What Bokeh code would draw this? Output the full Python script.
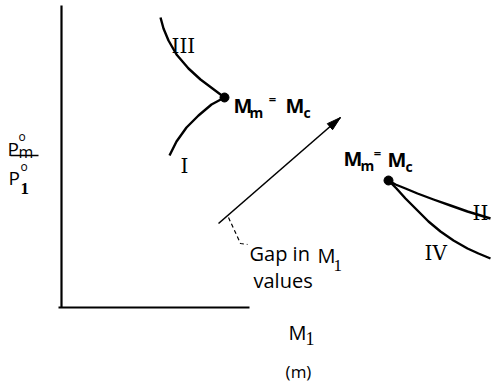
from bokeh.plotting import figure
from bokeh.models import Range1d
from bokeh.core.properties import value
from bokeh.embed import file_html
from bokeh.resources import INLINE

# Schematic curves, in axis units (origin at the corner of the axes, y upward)
curve_III_x = [99, 102, 107, 115, 127, 139, 151, 163]
curve_III_y = [290, 279, 267, 253, 239, 228, 219, 210]
curve_I_x = [108, 115, 125, 137, 150, 163]
curve_I_y = [152, 166, 180, 192, 203, 210]
curve_II_x = [327, 334, 344, 356, 372, 389, 406, 429]
curve_II_y = [127, 123, 119, 114, 108, 102, 96, 89]
curve_IV_x = [327, 335, 344, 355, 367, 379, 392, 406, 417, 429]
curve_IV_y = [127, 119, 109, 98, 86, 76, 67, 59, 54, 49]

# Critical points M_m = M_c
crit_x = [163, 327]
crit_y = [210, 127]

# Direction arrow and the "gap" leader
arrow_x = [157, 279]
arrow_y = [84, 190]
leader_x = [167, 179, 186]
leader_y = [90, 64, 63]

# Axes extents
yaxis_top = 302
xaxis_end = 188

SANS = "Open Sans"
SERIF = "DejaVu Serif"

p = figure(width=491, height=385, output_backend="svg", toolbar_location=None,
           x_range=Range1d(-61, 430), y_range=Range1d(-78, 307),
           x_axis_location=None, y_axis_location=None, min_border=0)
p.outline_line_color = None
p.xgrid.visible = False
p.ygrid.visible = False

# axes
p.line([0, 0], [0, yaxis_top], line_color="black", line_width=2.2)
p.line([-3, xaxis_end], [0, 0], line_color="black", line_width=1.8)

# curves
for cx, cy in [(curve_III_x, curve_III_y), (curve_I_x, curve_I_y),
               (curve_II_x, curve_II_y), (curve_IV_x, curve_IV_y)]:
    p.line(cx, cy, line_color="black", line_width=2.4, line_join="round")

p.scatter(crit_x, crit_y, size=9, color="black")

# arrow shaft and head
p.line(arrow_x, arrow_y, line_color="black", line_width=1.6)
dx = arrow_x[1] - arrow_x[0]
dy = arrow_y[1] - arrow_y[0]
ln = (dx * dx + dy * dy) ** 0.5
ux, uy = dx / ln, dy / ln
head_len, head_w = 14, 4
bx, by = arrow_x[1] - ux * head_len, arrow_y[1] - uy * head_len
p.patch([arrow_x[1], bx - uy * head_w, bx + uy * head_w],
        [arrow_y[1], by + ux * head_w, by - ux * head_w],
        color="black", line_width=1)

p.line(leader_x, leader_y, line_color="black", line_width=1.2, line_dash="4 3")


def txt(x, y, s, size, font=SANS, style="normal", align="left", baseline="alphabetic"):
    p.text([x], [y], text=[s], text_font=value(font), text_font_size=f"{size}px",
           text_font_style=style, text_align=align, text_baseline=baseline,
           text_color="black")


def m_sub(x, y, main, sub, size=20, subsize=14, style="bold", subfont=SANS, subdx=15, drop=7):
    txt(x, y, main, size, style=style)
    txt(x + subdx, y - drop, sub, subsize, font=subfont, style=style)


# M_m = M_c labels
m_sub(172, 202, "M", "m", subdx=16)
txt(211, 209, "=", 13, style="bold", baseline="middle", align="center")
m_sub(224, 202, "M", "c", subdx=18)

m_sub(282, 149, "M", "m", subdx=17)
txt(316, 155, "=", 13, style="bold", baseline="middle", align="center")
m_sub(326, 148, "M", "c", subdx=18)

# Roman numerals
txt(110, 262, "III", 20, font=SERIF)
txt(119, 142, "I", 20, font=SERIF)
txt(411, 95, "II", 20, font=SERIF)
txt(363, 55, "IV", 20, font=SERIF)

# gap annotation
txt(188, 54, "Gap in", 20)
m_sub(256, 52, "M", "1", size=20, subsize=17, style="normal", subfont="Liberation Serif", subdx=16, drop=10)
txt(192, 27, "values", 20)

# axis labels
m_sub(227, -25, "M", "1", size=20, subsize=18, style="normal", subfont="Liberation Serif", subdx=17, drop=6)
txt(237, -64, "(m)", 17, align="center", baseline="middle")

# ordinate: P^o_m / P^o_1
txt(-54, 159, "P", 19)
txt(-43, 171, "o", 12)
txt(-43, 156, "m", 16)
p.line([-51, -23], [152, 152], line_color="black", line_width=1.3)
txt(-53, 130, "P", 19)
txt(-41, 141, "o", 12)
txt(-41, 119, "1", 17, font="Liberation Serif", style="bold")

open("out.html", "w").write(file_html(p, INLINE))
